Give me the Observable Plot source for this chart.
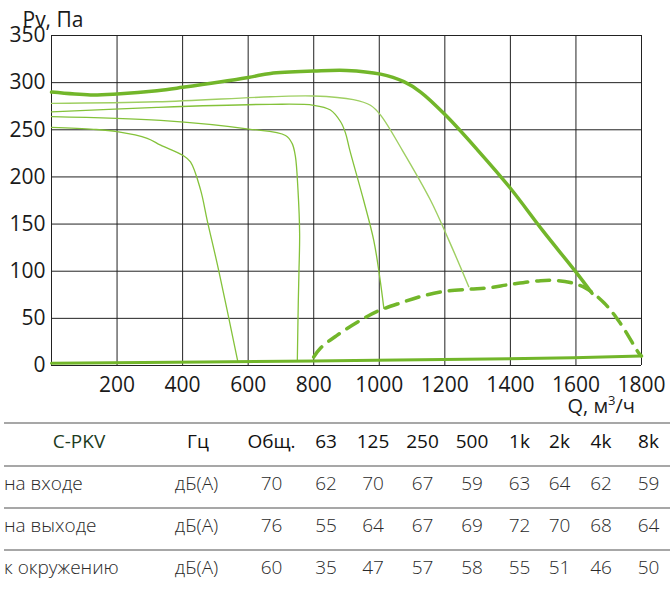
<!DOCTYPE html>
<html>
<head>
<meta charset="utf-8">
<script src="https://cdn.jsdelivr.net/npm/d3@7"></script>
<script src="https://cdn.jsdelivr.net/npm/@observablehq/plot@0.6"></script>
<style>
  html, body { margin: 0; padding: 0; background: #fff; }
  #wrap { position: relative; width: 670px; height: 590px; overflow: hidden; font-family: "Open Sans", sans-serif; }
  #chart { position: absolute; left: 0; top: 0; }
  #table { position: absolute; left: 0; top: 0; }
</style>
</head>
<body>
<div id="wrap"><div id="chart"></div><svg id="table" width="670" height="590"></svg></div>
<script>
// ---- Data ----
const xTicks = [200, 400, 600, 800, 1000, 1200, 1400, 1600, 1800];
const yTicks = [0, 50, 100, 150, 200, 250, 300, 350];
const gridX = [0, 200, 400, 600, 800, 1000, 1200, 1400, 1600, 1800];

// main (max speed) characteristic
const mainQ = [0, 119, 200, 322, 400, 600, 668, 800, 900, 1004, 1075, 1126, 1202, 1300, 1400, 1500, 1599, 1649];
const mainP = [290, 287, 288, 291.4, 295, 305.5, 309.8, 312.3, 313, 309, 301, 290, 265.6, 228.5, 188, 142.5, 99.5, 76.6];

// dashed working boundary
const dashQ = [800, 821, 871, 943, 998, 1068, 1135, 1207, 1278, 1334, 1400, 1492, 1546, 1583, 1630, 1687, 1735, 1794, 1800];
const dashP = [9, 18.6, 32, 48, 58, 66.7, 74, 79, 81, 82.5, 86, 90, 90, 88, 82, 66, 45, 12, 10];

// bottom line
const baseQ = [0, 800, 1492, 1800];
const baseP = [2.5, 4.8, 7.6, 10];

// thin speed curves
const curveAQ = [0, 128, 200, 292, 333, 400, 424, 455, 475, 510, 568];
const curveAP = [252.6, 250.5, 248, 241, 233.7, 223, 216, 186, 154, 101, 5];
const curveBQ = [0, 333, 602, 714, 734, 744, 752, 757, 755, 753, 750];
const curveBP = [264, 260, 250.8, 244, 235.6, 222, 186, 140, 100, 69, 5];
const curveCQ = [0, 322, 668, 800, 851, 882, 897, 910, 952, 983, 999, 1014];
const curveCP = [269, 273.8, 277, 276, 271, 258.5, 246.5, 228.5, 175.5, 133, 99.5, 60.6];
const curveDQ = [0, 322, 668, 800, 921, 973, 1004, 1070, 1156, 1212, 1273];
const curveDP = [278, 279.7, 285, 285.8, 282, 276, 265.6, 228.5, 175.5, 133, 83.6];

// noise table
const tableHeader = ["C-PKV", "Гц", "Общ.", "63", "125", "250", "500", "1k", "2k", "4k", "8k"];
const rowLabels = ["на входе", "на выходе", "к окружению"];
const rowUnit = "дБ(А)";
const rowInlet  = [70, 62, 70, 67, 59, 63, 64, 62, 59];
const rowOutlet = [76, 55, 64, 67, 69, 72, 70, 68, 64];
const rowAmbient = [60, 35, 47, 57, 58, 55, 51, 46, 50];

// ---- Build ----
const pts = (qs, ps) => qs.map((q, i) => ({q, p: ps[i]}));
const thick = "#72b62a";
const thin = "#84c23a";
const thinLight = "#9fcf62";

const chart = Plot.plot({
  width: 670,
  height: 420,
  marginLeft: 51,
  marginRight: 29,
  marginTop: 35,
  marginBottom: 55,
  style: { fontFamily: "'Open Sans', sans-serif", fontSize: "21px", color: "#1a1a1a", background: "transparent" },
  x: { domain: [0, 1800], ticks: xTicks, label: null },
  y: { domain: [0, 350], ticks: yTicks, label: null },
  marks: [
    Plot.ruleX(gridX, { stroke: "#222", strokeWidth: 1 }),
    Plot.ruleY(yTicks, { stroke: "#222", strokeWidth: 1 }),
    Plot.line(pts(curveAQ, curveAP), { x: "q", y: "p", stroke: thin, strokeWidth: 1.3, curve: "catmull-rom" }),
    Plot.line(pts(curveBQ, curveBP), { x: "q", y: "p", stroke: thin, strokeWidth: 1.3, curve: "catmull-rom" }),
    Plot.line(pts(curveCQ, curveCP), { x: "q", y: "p", stroke: thin, strokeWidth: 1.3, curve: "catmull-rom" }),
    Plot.line(pts(curveDQ, curveDP), { x: "q", y: "p", stroke: thinLight, strokeWidth: 1.4, curve: "catmull-rom" }),
    Plot.line(pts(baseQ, baseP), { x: "q", y: "p", stroke: thick, strokeWidth: 3, curve: "catmull-rom" }),
    Plot.line(pts(dashQ, dashP), { x: "q", y: "p", stroke: thick, strokeWidth: 3.5, strokeDasharray: "13 9", curve: "catmull-rom" }),
    Plot.line(pts(mainQ, mainP), { x: "q", y: "p", stroke: thick, strokeWidth: 3.5, curve: "catmull-rom" }),
    Plot.axisX({ ticks: xTicks, tickFormat: d3.format("d"), tickSize: 0, tickPadding: 12, fontSize: 21, label: null }),
    Plot.axisY({ ticks: yTicks, tickFormat: d3.format("d"), tickSize: 0, tickPadding: 6, fontSize: 21, label: null })
  ]
});
document.getElementById("chart").appendChild(chart);

const svg = d3.select(chart);
svg.append("text").attr("x", 53).attr("y", 27).attr("font-size", 21).attr("fill", "#1a1a1a").text("Pv, Па");
const q = svg.append("text").attr("x", 635).attr("y", 413).attr("font-size", 20).attr("fill", "#1a1a1a").attr("text-anchor", "end");
q.append("tspan").text("Q, м");
q.append("tspan").attr("font-size", 13).attr("dy", -8).text("3");
q.append("tspan").attr("dy", 8).text("/ч");

// table
const t = d3.select("#table");
const colX = [79, 198, 271.5, 326, 373, 422.5, 472, 519.5, 559.5, 601, 648.5];
const lineY = [423, 466, 508, 550];
lineY.forEach(y => t.append("line").attr("x1", 4).attr("x2", 670).attr("y1", y).attr("y2", y).attr("stroke", "#8a8a8a").attr("stroke-width", 1.6));
const baseH = 448;
tableHeader.forEach((h, i) => {
  t.append("text").attr("x", colX[i]).attr("y", baseH).attr("text-anchor", "middle")
    .attr("font-size", 19).attr("fill", i === 0 ? "#1d3b1d" : "#111").text(h);
});
const rows = [rowInlet, rowOutlet, rowAmbient];
const rowBase = [490, 532, 574];
rows.forEach((vals, r) => {
  t.append("text").attr("x", 4).attr("y", rowBase[r]).attr("font-size", 19).attr("fill", "#2a2a2a").attr("font-weight", 300).text(rowLabels[r]);
  t.append("text").attr("x", colX[1] - 1.5).attr("y", rowBase[r]).attr("text-anchor", "middle").attr("font-size", 19).attr("fill", "#2a2a2a").attr("font-weight", 300).text(rowUnit);
  vals.forEach((v, i) => {
    t.append("text").attr("x", colX[i + 2]).attr("y", rowBase[r]).attr("text-anchor", "middle")
      .attr("font-size", 19).attr("fill", "#2a2a2a").attr("font-weight", 300).text(v);
  });
});
</script>
</body>
</html>
